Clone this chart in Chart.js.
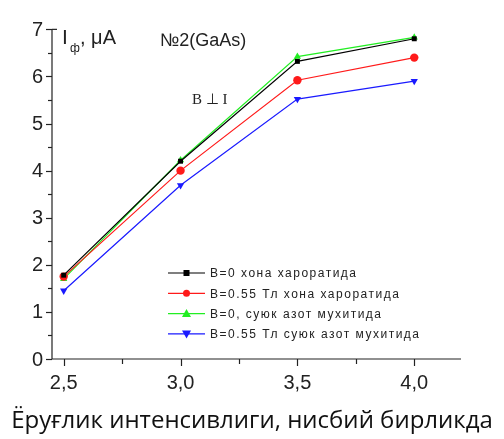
<!DOCTYPE html>
<html>
<head>
<meta charset="utf-8">
<script src="https://cdn.jsdelivr.net/npm/chart.js@4"></script>
<style>
  html, body { margin: 0; padding: 0; background: #fff; }
  #wrap { position: relative; width: 504px; height: 439px; }
</style>
</head>
<body>
<div id="wrap"><canvas id="chart" width="504" height="439"></canvas></div>
<script>
const intensity = [2.5, 3.0, 3.5, 4.0];
const roomB0 = [1.78, 4.2, 6.32, 6.8];
const roomB055 = [1.75, 4.0, 5.92, 6.4];
const nitrogenB0 = [1.7, 4.22, 6.42, 6.83];
const nitrogenB055 = [1.45, 3.69, 5.52, 5.9];

const seriesNames = [
  "B=0 хона хароратида",
  "B=0.55 Тл хона хароратида",
  "B=0, суюк азот мухитида",
  "B=0.55 Тл суюк азот мухитида"
];
const xTicks = [2.5, 3.0, 3.5, 4.0];
const yTicks = [0, 1, 2, 3, 4, 5, 6, 7];

const colors = ["#000000", "#ff1a1a", "#22ee22", "#1a1aff"];
const markers = ["rect", "circle", "triangle", "triangle"];
const rotations = [0, 0, 0, 180];

function pts(ys) {
  return intensity.map((x, i) => ({ x, y: ys[i] }));
}

const allSeries = [roomB0, roomB055, nitrogenB0, nitrogenB055];

// axes ticks, labels, legend and notes
const decor = {
  id: "decor",
  afterDraw(c) {
    const ctx = c.ctx;
    const xs = c.scales.x, ys = c.scales.y;
    const a = c.chartArea;
    ctx.save();
    ctx.strokeStyle = "#222";
    ctx.lineWidth = 1.2;
    ctx.beginPath();
    ctx.moveTo(a.left, ys.getPixelForValue(7));
    ctx.lineTo(a.left, a.bottom);
    ctx.lineTo(a.right, a.bottom);
    ctx.stroke();

    // x ticks
    for (let v = 2.5; v <= 4.001; v += 0.25) {
      const px = Math.round(xs.getPixelForValue(v)) + 0.5;
      const major = Math.abs(v * 2 - Math.round(v * 2)) < 1e-6;
      ctx.beginPath();
      ctx.moveTo(px, a.bottom);
      ctx.lineTo(px, a.bottom + (major ? 7 : 5));
      ctx.stroke();
    }
    // y ticks
    for (let v = 0; v <= 7.001; v += 0.5) {
      const py = Math.round(ys.getPixelForValue(v)) + 0.5;
      const major = Math.abs(v - Math.round(v)) < 1e-6;
      ctx.beginPath();
      ctx.moveTo(a.left, py);
      ctx.lineTo(a.left - (major ? 6 : 4), py);
      ctx.stroke();
    }
    ctx.beginPath();
    ctx.moveTo(a.left, ys.getPixelForValue(7));
    ctx.lineTo(a.left + 5, ys.getPixelForValue(7));
    ctx.stroke();

    ctx.fillStyle = "#222";
    ctx.font = "20px 'Liberation Sans', Arial, sans-serif";
    ctx.textAlign = "center";
    ctx.textBaseline = "top";
    xTicks.forEach(v => {
      ctx.fillText(v.toFixed(1).replace(".", ","), xs.getPixelForValue(v), a.bottom + 14);
    });
    ctx.textAlign = "right";
    ctx.textBaseline = "middle";
    yTicks.forEach(v => {
      ctx.fillText(String(v), a.left - 9, ys.getPixelForValue(v) + 1);
    });

    // axis titles
    ctx.textAlign = "left";
    ctx.textBaseline = "alphabetic";
    ctx.font = "21px 'Liberation Sans', Arial, sans-serif";
    ctx.fillText("I", 62, 44);
    ctx.font = "12px 'Liberation Sans', Arial, sans-serif";
    ctx.fillText("ф", 70, 52);
    ctx.font = "20px 'Liberation Sans', Arial, sans-serif";
    ctx.fillText(", μA", 80, 44);

    ctx.font = "18px 'Liberation Sans', Arial, sans-serif";
    ctx.fillText("№2(GaAs)", 160, 46);

    ctx.font = "15px 'Liberation Serif', 'Times New Roman', serif";
    ctx.fillText("B ⊥ I", 192, 104);

    ctx.textAlign = "center";
    ctx.font = "24px 'Open Sans', 'Noto Sans', sans-serif";
    ctx.fillStyle = "#111";
    ctx.fillText("Ёруғлик интенсивлиги, нисбий бирликда", 252, 428);

    // legend
    ctx.textAlign = "left";
    ctx.textBaseline = "middle";
    ctx.font = "12px 'Liberation Sans', Arial, sans-serif";
    const lx0 = 168, lx1 = 205;
    seriesNames.forEach((name, i) => {
      const ly = 273 + i * 20.3;
      ctx.strokeStyle = colors[i];
      ctx.lineWidth = 1.2;
      ctx.beginPath();
      ctx.moveTo(lx0, ly);
      ctx.lineTo(lx1, ly);
      ctx.stroke();
      ctx.fillStyle = colors[i];
      const mx = (lx0 + lx1) / 2;
      ctx.beginPath();
      if (i === 0) {
        ctx.fillRect(mx - 3, ly - 3, 6, 6);
      } else if (i === 1) {
        ctx.arc(mx, ly, 3.5, 0, Math.PI * 2);
        ctx.fill();
      } else if (i === 2) {
        ctx.moveTo(mx, ly - 4.5);
        ctx.lineTo(mx + 4.5, ly + 3.5);
        ctx.lineTo(mx - 4.5, ly + 3.5);
        ctx.closePath();
        ctx.fill();
      } else {
        ctx.moveTo(mx, ly + 4.5);
        ctx.lineTo(mx + 4.5, ly - 3.5);
        ctx.lineTo(mx - 4.5, ly - 3.5);
        ctx.closePath();
        ctx.fill();
      }
      ctx.fillStyle = "#222";
      ctx.letterSpacing = "1.5px";
      ctx.fillText(name, 210, ly + 1);
    });
    ctx.restore();
  }
};

new Chart(document.getElementById("chart"), {
  type: "line",
  data: {
    datasets: allSeries.map((ys, i) => ({
      label: seriesNames[i],
      data: pts(ys),
      borderColor: colors[i],
      backgroundColor: colors[i],
      borderWidth: 1.2,
      pointStyle: markers[i],
      rotation: rotations[i],
      pointRadius: i === 0 ? 3.5 : 4.2,
      pointBorderWidth: 0,
      tension: 0
    }))
  },
  options: {
    responsive: false,
    animation: false,
    layout: { padding: { left: 52, right: 43, top: 27, bottom: 80 } },
    plugins: { legend: { display: false }, tooltip: { enabled: false } },
    scales: {
      x: {
        type: "linear", min: 2.45, max: 4.2,
        display: false
      },
      y: {
        min: 0, max: 7.05,
        display: false
      }
    }
  },
  plugins: [decor]
});
</script>
</body>
</html>
